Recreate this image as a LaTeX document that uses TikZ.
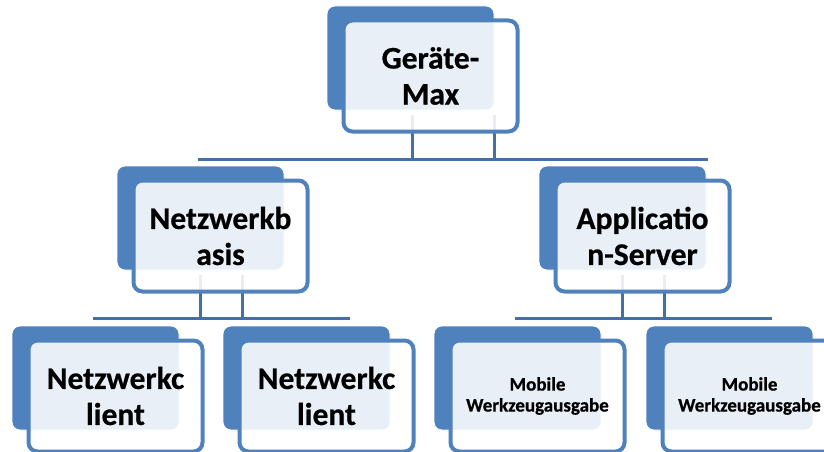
\documentclass[tikz,border=0pt]{standalone}
\usepackage{fontspec}
\setmainfont{Carlito}[BoldFeatures={FakeBold=0.6}]
\usetikzlibrary{calc}
\definecolor{accent}{HTML}{4F81BD}
\definecolor{conn}{HTML}{4570A3}
\tikzset{
  backbox/.style={fill=accent, draw=white, line width=0.8pt, rounded corners=8pt,
    minimum width=167pt, minimum height=104pt, inner sep=0pt},
  frontbox/.style={draw=accent, line width=4pt, fill=white, fill opacity=0.88,
    text opacity=1, rounded corners=9pt, minimum width=174pt, minimum height=111pt,
    inner sep=0pt, align=center, font=\bfseries\fontsize{31.5}{36}\selectfont},
  smalltext/.style={font=\bfseries\fontsize{19}{21}\selectfont},
  connline/.style={draw=conn, line width=3pt},
}
\begin{document}
\begin{tikzpicture}[x=1pt,y=-1pt]
\useasboundingbox (0,0) rectangle (824,452);
\clip (0,0) rectangle (824,452);
\fill[white] (0,0) rectangle (824,452);

% bars
\coordinate (t1) at (198,159.5);
\coordinate (t2) at (708,159.5);
\coordinate (l1) at (93,318);
\coordinate (l2) at (350,318);
\coordinate (r1) at (515,318);
\coordinate (r2) at (772,318);
\draw[connline] (t1) -- (t2);
\draw[connline] (l1) -- (l2);
\draw[connline] (r1) -- (r2);

% positions of the parent back boxes
\coordinate (Apos) at (410.5,58);
\coordinate (Bpos) at (200.5,218);
\coordinate (Cpos) at (622.5,218);

% vertical connectors
\draw[connline] ($(Apos)+(1.5,57)$) -- (412,159.5);
\draw[connline] ($(Apos)+(84,57)$) -- (494.5,159.5);
\draw[connline] ($(Bpos)+(0,57)$) -- (200.5,318);
\draw[connline] ($(Bpos)+(41.5,57)$) -- (242,318);
\draw[connline] ($(Cpos)+(0,57)$) -- (622.5,318);
\draw[connline] ($(Cpos)+(41.5,57)$) -- (664,318);

% back rectangles
\node[backbox] (Ab) at (410.5,58) {};
\node[backbox] (Bb) at (200.5,218) {};
\node[backbox] (Cb) at (622.5,218) {};
\node[backbox] (Db) at (95.5,378) {};
\node[backbox] (Eb) at (306.5,378) {};
\node[backbox] (Fb) at (517.5,378) {};
\node[backbox] (Gb) at (729.5,378) {};

% front rectangles with text
\node[frontbox] (Af) at (430.5,76) {Geräte-\\Max};
\node[frontbox] (Bf) at (220.5,236) {Netzwerkb\\asis};
\node[frontbox] (Cf) at (642.5,236) {Applicatio\\n-Server};
\node[frontbox] (Df) at (115.5,396) {Netzwerkc\\lient};
\node[frontbox] (Ef) at (326.5,396) {Netzwerkc\\lient};
\node[frontbox, smalltext] (Ff) at (537.5,396) {Mobile\\Werkzeugausgabe};
\node[frontbox, smalltext] (Gf) at (749.5,396) {Mobile\\Werkzeugausgabe};
\end{tikzpicture}
\end{document}
